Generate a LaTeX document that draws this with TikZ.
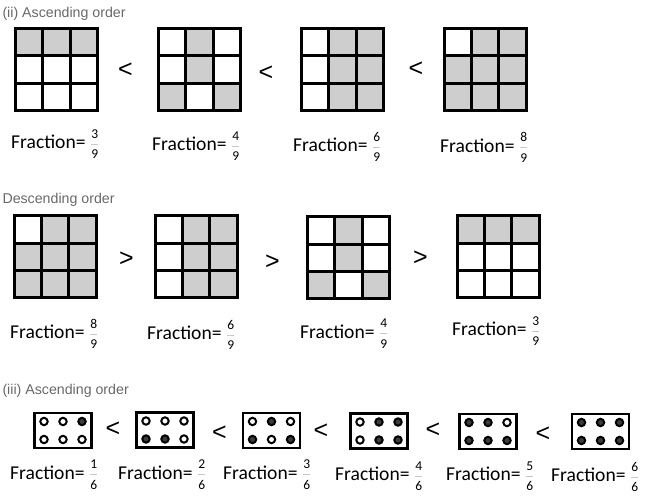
\documentclass[tikz,border=0pt]{standalone}
\usepackage{fontspec}
\newfontfamily\carl{Carlito}
\newfontfamily\libsans{Liberation Sans}
\definecolor{cellgray}{RGB}{206,206,206}
\definecolor{titlegray}{RGB}{105,105,105}
\definecolor{barcol}{RGB}{200,200,200}
\definecolor{dotfill}{RGB}{60,60,60}
\tikzset{
  gbox/.style={rectangle, minimum size=82pt, inner sep=0pt, outer sep=0pt},
  gline/.style={line width=3pt, line join=miter, line cap=rect},
  cellg/.style={fill=cellgray},
  cellw/.style={fill=white},
  dbox/.style={rectangle, draw, line width=2.8pt, minimum width=57pt, minimum height=35pt, inner sep=0pt, outer sep=0pt},
  doto/.style={draw, line width=2pt, fill=white},
  dotf/.style={draw, line width=2pt, fill=dotfill},
  lab/.style={inner sep=0pt, font=\carl\fontsize{19.6}{20}\selectfont},
  dig/.style={inner sep=0pt, font=\carl\fontsize{13.5}{14}\selectfont},
  fbar/.style={draw=barcol, line width=0.6pt},
  ttl/.style={inner sep=0pt, anchor=base west, text=titlegray, font=\libsans\fontsize{14.2}{16}\selectfont},
  sgn/.style={inner sep=0pt, font=\libsans\fontsize{25}{25}\selectfont}
}
\newcommand{\grd}[4]{%
  \node[gbox] (#1) at (#2,#3) {};
  \foreach \f [count=\i from 0] in {#4} {
    \pgfmathtruncatemacro\cc{mod(\i,3)}
    \pgfmathtruncatemacro\rr{floor(\i/3)}
    \fill[cell\f] ([shift={(\cc*82/3,\rr*82/3)}]#1.north west) rectangle ++(82/3,82/3);
  }
  \foreach \k in {1,2} {
    \draw[gline] ([shift={(\k*82/3,0)}]#1.north west) -- ([shift={(\k*82/3,0)}]#1.south west);
    \draw[gline] ([shift={(0,\k*82/3)}]#1.north west) -- ([shift={(0,\k*82/3)}]#1.north east);
  }
  \draw[gline] (#1.north west) rectangle (#1.south east);
}
\newcommand{\dbx}[4]{%
  \node[dbox] (#1) at (#2,#3) {};
  \foreach \f [count=\i from 0] in {#4} {
    \pgfmathsetmacro\dx{(mod(\i,3)-1)*19}
    \pgfmathsetmacro\dy{(floor(\i/3)-0.5)*18}
    \draw[dot\f] ([shift={(\dx,\dy)}]#1.center) circle (3.7pt);
  }
}
\newcommand{\flab}[5]{%
  \node[lab, anchor=base west] (#1) at (#2,#3) {Fraction=};
  \node[dig, anchor=base] (#1-n) at ([shift={(9,-10.5)}]#1.base east) {#4};
  \node[dig, anchor=base] (#1-d) at ([shift={(9,10)}]#1.base east) {#5};
  \draw[fbar] ([shift={(5.5,-4.7)}]#1.base east) -- ([shift={(12.5,-4.7)}]#1.base east);
}
\begin{document}
\begin{tikzpicture}[x=1pt, y=-1pt]
\fill[white] (0,0) rectangle (649,502);
\useasboundingbox (0,0) rectangle (649,502);

% ---- (ii) Ascending
\node[ttl] (t1) at (2.3,17.5) {(ii) Ascending order};
\grd{a1}{56.5}{69.5}{g,g,g,w,w,w,w,w,w}
\grd{a2}{199.5}{69.5}{w,g,w,w,g,w,g,w,g}
\grd{a3}{342.5}{69.5}{w,g,g,w,g,g,w,g,g}
\grd{a4}{485}{69.5}{w,g,g,g,g,g,g,g,g}
\node[sgn] (s1) at (125.5,70) {<};
\node[sgn] (s2) at (266,73) {<};
\node[sgn] (s3) at (416,69.5) {<};
\flab{fa1}{11}{149}{3}{9}
\flab{fa2}{152}{151}{4}{9}
\flab{fa3}{293}{152}{6}{9}
\flab{fa4}{440}{152.5}{8}{9}

% ---- Descending
\node[ttl] (t2) at (2.3,203.5) {Descending order};
\grd{b1}{55}{257}{w,g,g,g,g,g,g,g,g}
\grd{b2}{196}{257}{w,g,g,w,g,g,w,g,g}
\grd{b3}{348.5}{258}{w,g,w,w,g,w,g,w,g}
\grd{b4}{498}{257}{g,g,g,w,w,w,w,w,w}
\node[sgn] (s4) at (126.5,259) {>};
\node[sgn] (s5) at (272.5,262.5) {>};
\node[sgn] (s6) at (420.5,258) {>};
\flab{fb1}{10}{339}{8}{9}
\flab{fb2}{147}{340}{6}{9}
\flab{fb3}{300}{338.3}{4}{9}
\flab{fb4}{452}{335.7}{3}{9}

% ---- (iii) Ascending
\node[ttl] (t3) at (2.3,394.5) {(iii) Ascending order};
\dbx{c1}{63}{430.5}{o,o,f,o,o,o}
\dbx{c2}{165}{430}{o,o,o,f,f,o}
\dbx{c3}{271.5}{430.5}{o,f,o,f,o,f}
\dbx{c4}{379}{431}{o,f,f,o,f,f}
\dbx{c5}{488}{431.5}{f,f,o,f,f,f}
\dbx{c6}{600.5}{431.5}{f,f,f,f,f,f}
\node[sgn] (s7) at (113,429) {<};
\node[sgn] (s8) at (219.3,433) {<};
\node[sgn] (s9) at (321,431) {<};
\node[sgn] (s10) at (432.8,430.5) {<};
\node[sgn] (s11) at (543,434) {<};
\flab{fc1}{10}{479.5}{1}{6}
\flab{fc2}{118}{479.5}{2}{6}
\flab{fc3}{223}{479.5}{3}{6}
\flab{fc4}{335}{481}{4}{6}
\flab{fc5}{446}{481}{5}{6}
\flab{fc6}{551}{482}{6}{6}
\end{tikzpicture}
\end{document}
